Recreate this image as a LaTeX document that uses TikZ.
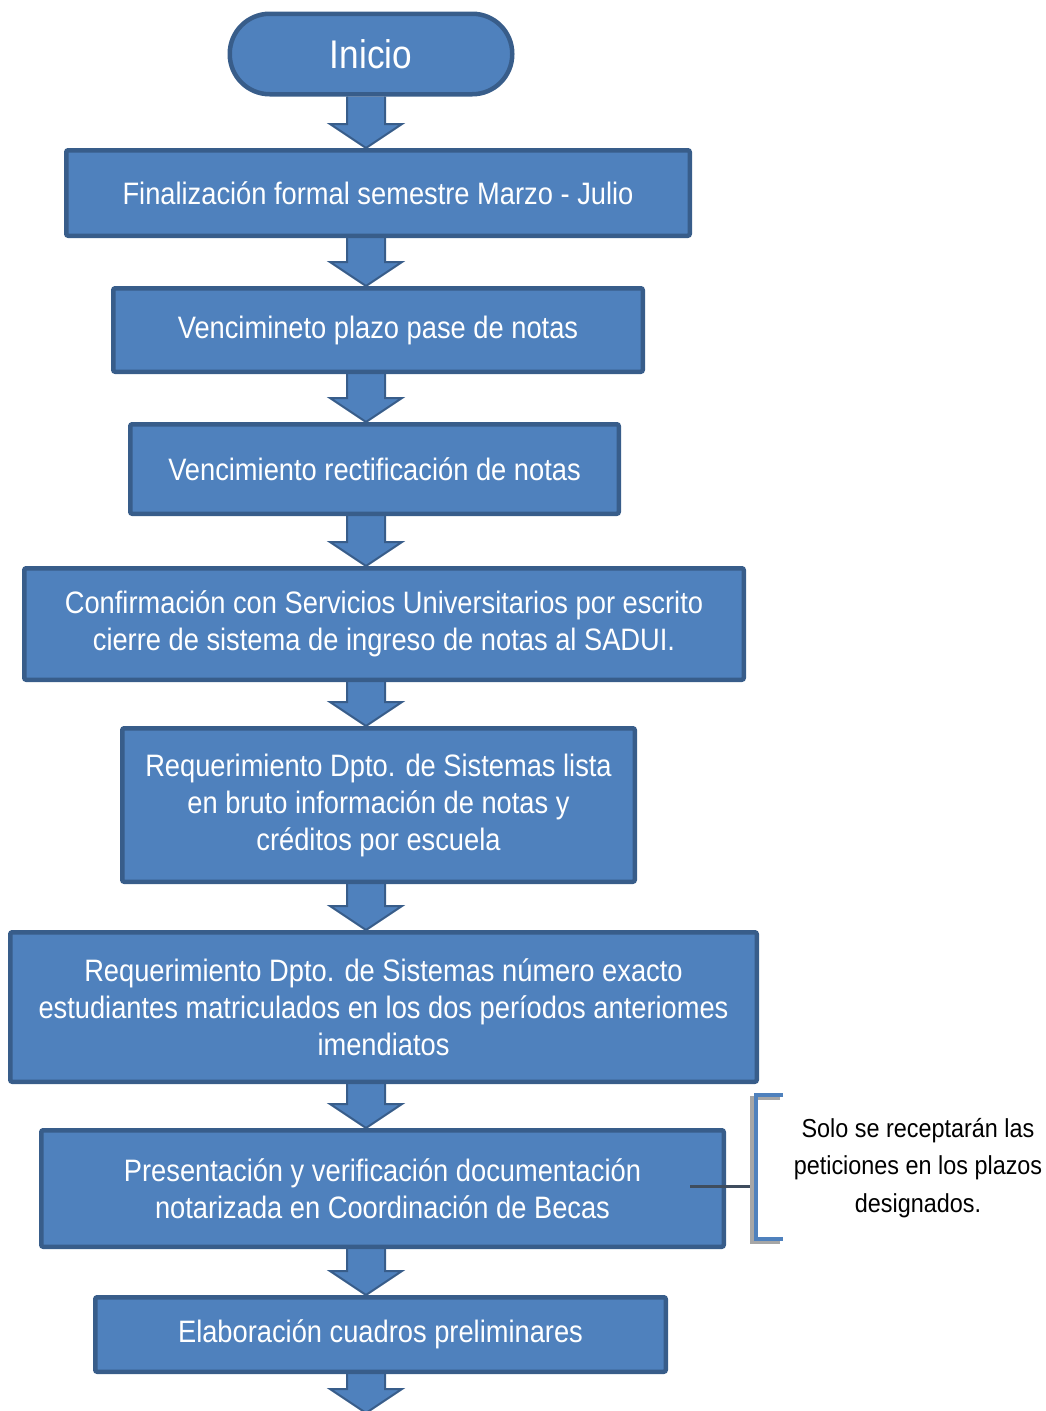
\documentclass[tikz,border=0pt]{standalone}
\usepackage{fontspec}
\setmainfont{Liberation Sans}[FakeStretch=0.88]
\newfontfamily\notafont{Liberation Sans}[FakeStretch=0.9]
\usetikzlibrary{calc,backgrounds}
\definecolor{cajaazul}{HTML}{4F81BD}
\definecolor{bordeazul}{HTML}{385D8A}
\definecolor{lineagris}{HTML}{3F4D5E}

\tikzset{
  caja/.style={draw=bordeazul, fill=cajaazul, line width=4.5pt, rounded corners=2pt,
               text=white, align=center, inner sep=0pt,
               font=\fontsize{31}{37}\selectfont},
  inicio/.style={caja, rounded corners=40pt, font=\fontsize{40}{44}\selectfont},
  flecha/.style={fill=cajaazul, draw=bordeazul, line width=2pt, line join=miter},
  nota/.style={align=center, font=\notafont\fontsize{26}{37.5}\selectfont},
}

\begin{document}
\begin{tikzpicture}[x=1pt,y=-1pt]
  \useasboundingbox (0,0) rectangle (1045,1411);

  % pasos del proceso
  \node[inicio, minimum width=282.5, minimum height=80.5] (inicio) at (371,54) {Inicio};
  \node[caja, minimum width=623.5, minimum height=85.5] (final) at (378,193)
    {Finalización formal semestre Marzo - Julio};
  \node[caja, minimum width=529.5, minimum height=83.5] (plazo) at (378,330)
    {Vencimineto plazo pase de notas};
  \node[caja, minimum width=488.5, minimum height=89.5] (rectif) at (374.5,469)
    {Vencimiento rectificación de notas};
  \node[caja, minimum width=719.5, minimum height=111.5] (confirm) at (384,624)
    {Confirmación con Servicios Universitarios por escrito\\cierre de sistema de ingreso de notas al SADUI.};
  \node[caja, minimum width=512.5, minimum height=153.5] (lista) at (378.5,805)
    {Requerimiento Dpto. de Sistemas lista\\en bruto información de notas y\\créditos por escuela};
  \node[caja, minimum width=746.5, minimum height=149.5] (numero) at (383.5,1007)
    {Requerimiento Dpto. de Sistemas número exacto\\estudiantes matriculados en los dos períodos anteriomes\\imendiatos};
  \node[caja, minimum width=682.5, minimum height=116.5] (present) at (382.5,1188.5)
    {Presentación y verificación documentación\\notarizada en Coordinación de Becas};
  \node[caja, minimum width=570.5, minimum height=74.5] (elab) at (380.5,1334.5)
    {Elaboración cuadros preliminares};
  \coordinate (fin) at (366,1413);

  % flechas de bloque
  \begin{scope}[on background layer]
    \foreach \a/\b in {inicio/final.north, final/plazo.north, plazo/rectif.north,
                       rectif/confirm.north, confirm/lista.north, lista/numero.north,
                       numero/present.north, present/elab.north, elab/fin} {
      \path[flecha] let \p1=(\a.south), \p2=(\b) in
        (347pt,\y1) -- (347pt,\y2+24pt) -- (330pt,\y2+24pt) -- (366pt,\y2)
        -- (402pt,\y2+24pt) -- (385pt,\y2+24pt) -- (385pt,\y1);
    }
  \end{scope}

  % corchete con la nota
  \draw[lineagris, line width=3pt] (690,1186) -- (754,1186);
  \draw[gray!70, line width=4pt] (780,1098) -- (752,1098) -- (752,1242) -- (780,1242);
  \draw[cajaazul, line width=4pt] (783,1095) -- (756,1095) -- (756,1239) -- (783,1239);
  \node[nota] (solo) at (918,1168)
    {Solo se receptarán las\\peticiones en los plazos\\designados.};
\end{tikzpicture}
\end{document}
